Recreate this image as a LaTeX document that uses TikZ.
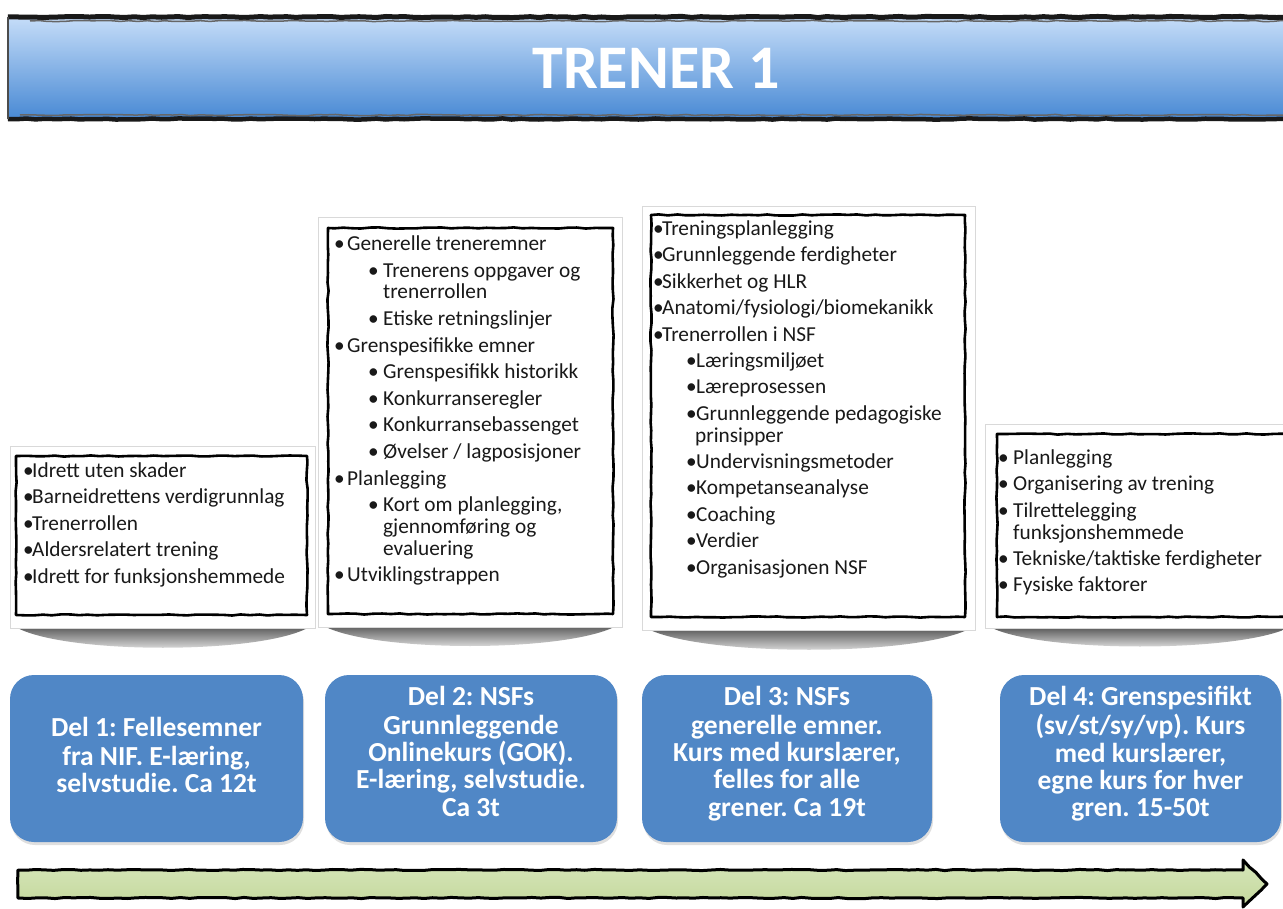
\documentclass[tikz,border=0pt]{standalone}
\usepackage{fontspec}
\setmainfont{Carlito}
\usetikzlibrary{decorations.pathmorphing,shadows}
\frenchspacing
\definecolor{hdtop}{RGB}{196,220,248}
\definecolor{hdbot}{RGB}{72,137,212}
\definecolor{delblue}{RGB}{80,135,198}
\definecolor{argreen}{RGB}{196,216,156}
\definecolor{argreenl}{RGB}{214,230,186}
\definecolor{txt}{RGB}{25,25,25}
\tikzset{
  rough/.style={decorate,decoration={random steps,segment length=9pt,amplitude=0.6pt}},
  card/.style={fill=white,draw=black!15,line width=0.8pt},
  innerframe/.style={draw=black,line width=2.6pt,rough,line join=round},
  cshadow/.style={top color=black!66,bottom color=white,draw=none},
  listtext/.style={anchor=north west,inner sep=0pt,align=left,text=txt,font=\frenchspacing\fontsize{21.3}{21.8}\selectfont},
  delbox/.style={fill=delblue,rounded corners=24pt,draw=none,
    drop shadow={opacity=0.25,shadow xshift=1pt,shadow yshift=-3pt}},
  deltext/.style={align=center,text=white,inner sep=0pt,font=\frenchspacing\bfseries\fontsize{27.5}{27.3}\selectfont},
}
\begin{document}
\begin{tikzpicture}[x=1pt,y=-1pt]
\pgfmathsetseed{11}
\useasboundingbox (0,0) rectangle (1283,909);
\fill[white] (0,0) rectangle (1283,909);

% header
\shade[top color=hdtop,bottom color=hdbot] (8,18) rectangle (1290,119);
\draw[line width=5pt,black!90,rough] (8,17) -- (1290,17);
\draw[line width=1.5pt,black!60,rough] (30,21) -- (1290,21);
\draw[line width=4.5pt,black!90,rough] (8,119) -- (1290,119);
\draw[line width=1.5pt,black!60,rough] (20,115) -- (1290,115);
\draw[line width=1.2pt,black!70] (8,17) -- (8,119);
\node[text=white,font=\bfseries\fontsize{62}{62}\selectfont] (title) at (656,68) {TRENER 1};

% card 1
\shade[cshadow] (14,626) .. controls (60,655) and (266,655) .. (311,626) -- cycle;
\draw[card] (10,446) rectangle (315,628);
\draw[innerframe] (16,456) rectangle (307,615);
\node[listtext] (l1) at (23,462.5) {%
\makebox[9pt][l]{•}Idrett uten skader\\[4.6pt]
\makebox[9pt][l]{•}Barneidrettens verdigrunnlag\\[4.6pt]
\makebox[9pt][l]{•}Trenerrollen\\[4.6pt]
\makebox[9pt][l]{•}Aldersrelatert trening\\[4.6pt]
\makebox[9pt][l]{•}Idrett for funksjonshemmede};

% card 2
\shade[cshadow] (322,625) .. controls (370,653) and (570,653) .. (618,625) -- cycle;
\draw[card] (318,217) rectangle (622,627);
\draw[innerframe] (328,228) rectangle (613,614);
\node[listtext] (l2) at (334,235.5) {%
\makebox[13pt][l]{•}Generelle treneremner\\[4.8pt]
\hspace*{34pt}\makebox[15pt][l]{•}Trenerens oppgaver og\\
\hspace*{49pt}trenerrollen\\[4.8pt]
\hspace*{34pt}\makebox[15pt][l]{•}Etiske retningslinjer\\[4.8pt]
\makebox[13pt][l]{•}Grenspesifikke emner\\[4.8pt]
\hspace*{34pt}\makebox[15pt][l]{•}Grenspesifikk historikk\\[4.8pt]
\hspace*{34pt}\makebox[15pt][l]{•}Konkurranseregler\\[4.8pt]
\hspace*{34pt}\makebox[15pt][l]{•}Konkurransebassenget\\[4.8pt]
\hspace*{34pt}\makebox[15pt][l]{•}Øvelser / lagposisjoner\\[4.8pt]
\makebox[13pt][l]{•}Planlegging\\[4.8pt]
\hspace*{34pt}\makebox[15pt][l]{•}Kort om planlegging,\\
\hspace*{49pt}gjennomføring og\\
\hspace*{49pt}evaluering\\[4.8pt]
\makebox[13pt][l]{•}Utviklingstrappen};

% card 3
\shade[cshadow] (646,628) .. controls (700,657) and (918,657) .. (971,628) -- cycle;
\draw[card] (642,206) rectangle (975,630);
\draw[innerframe] (651,215) rectangle (965,617);
\node[listtext] (l3) at (653,220.5) {%
\makebox[9pt][l]{•}Treningsplanlegging\\[4.6pt]
\makebox[9pt][l]{•}Grunnleggende ferdigheter\\[4.6pt]
\makebox[9pt][l]{•}Sikkerhet og HLR\\[4.6pt]
\makebox[9pt][l]{•}Anatomi/fysiologi/biomekanikk\\[4.6pt]
\makebox[9pt][l]{•}Trenerrollen i NSF\\[4.6pt]
\hspace*{33pt}\makebox[10pt][l]{•}Læringsmiljøet\\[4.6pt]
\hspace*{33pt}\makebox[10pt][l]{•}Læreprosessen\\[4.6pt]
\hspace*{33pt}\makebox[10pt][l]{•}Grunnleggende pedagogiske\\
\hspace*{42pt}prinsipper\\[4.6pt]
\hspace*{33pt}\makebox[10pt][l]{•}Undervisningsmetoder\\[4.6pt]
\hspace*{33pt}\makebox[10pt][l]{•}Kompetanseanalyse\\[4.6pt]
\hspace*{33pt}\makebox[10pt][l]{•}Coaching\\[4.6pt]
\hspace*{33pt}\makebox[10pt][l]{•}Verdier\\[4.6pt]
\hspace*{33pt}\makebox[10pt][l]{•}Organisasjonen NSF};

% card 4
\shade[cshadow] (990,627) .. controls (1040,653) and (1240,653) .. (1290,627) -- cycle;
\draw[card] (985,424) rectangle (1295,628);
\draw[innerframe] (997,434) rectangle (1292,617);
\node[listtext] (l4) at (998,449.5) {%
\makebox[15pt][l]{•}Planlegging\\[4.6pt]
\makebox[15pt][l]{•}Organisering av trening\\[4.6pt]
\makebox[15pt][l]{•}Tilrettelegging\\
\hspace*{15pt}funksjonshemmede\\[4.6pt]
\makebox[15pt][l]{•}Tekniske/taktiske ferdigheter\\[4.6pt]
\makebox[15pt][l]{•}Fysiske faktorer};

% blue boxes
\path[delbox] (10,675) rectangle (303,842);
\path[delbox] (325,675) rectangle (617,842);
\path[delbox] (642,675) rectangle (932,842);
\path[delbox] (1000,675) rectangle (1281,842);
\node[deltext] (d1) at (156.5,759)
  {\strut Del 1: Fellesemner\\fra NIF. E-læring,\\selvstudie. Ca 12t\strut};
\node[deltext] (d2) at (471,755.5)
  {\strut Del 2: NSFs\\Grunnleggende\\Onlinekurs (GOK).\\E-læring, selvstudie.\\Ca 3t\strut};
\node[deltext] (d3) at (787,755.5)
  {\strut Del 3: NSFs\\generelle emner.\\Kurs med kurslærer,\\felles for alle\\grener. Ca 19t\strut};
\node[deltext] (d4) at (1140.5,755.5)
  {\strut Del 4: Grenspesifikt\\(sv/st/sy/vp). Kurs\\med kurslærer,\\egne kurs for hver\\gren. 15-50t\strut};

% arrow
\path[top color=argreenl,bottom color=argreen,draw=black,line width=3pt,rough,line join=round]
  (18,870) -- (1243,870) -- (1243,860) -- (1267,884) -- (1243,907) -- (1243,898) -- (18,898) -- cycle;
\end{tikzpicture}
\end{document}
